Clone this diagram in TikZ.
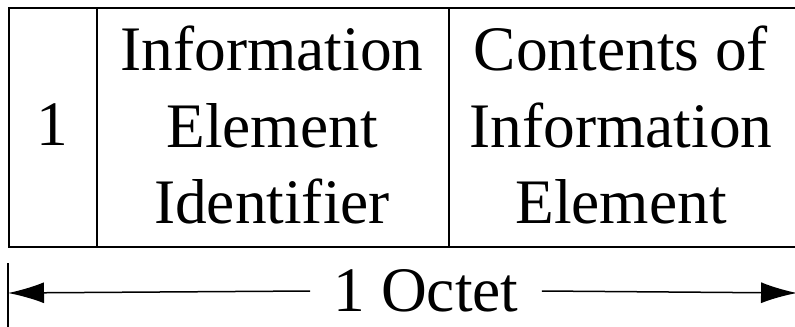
\documentclass[tikz,border=0pt]{standalone}
\usepackage{fontspec}
\setmainfont{Liberation Serif}
\usetikzlibrary{arrows.meta}
\begin{document}
\begin{tikzpicture}[x=0.5pt,y=-0.5pt,
  celltext/.style={align=center,font=\fontsize{31.7}{38.2}\selectfont},
  octetarrow/.style={line width=0.75pt,-{Latex[length=18pt,width=10.5pt]}}]

\useasboundingbox (0,0) rectangle (795,326);

% octet fields
\draw[line width=1pt] (9,8) rectangle (798,247);
\draw[line width=1pt] (97,8) -- (97,247);
\draw[line width=1pt] (449,8) -- (449,247);

\node[celltext] (flag) at (52,125) {1};
\node[celltext] (ieid) at (272,125) {Information\\Element\\Identifier};
\node[celltext] (iecont) at (621,125) {Contents of\\Information\\Element};

% width of one octet
\draw[line width=0.75pt] (8,263) -- (8,330);
\coordinate (octl) at (8,293);
\coordinate (octr) at (797,293);
\node[celltext,inner xsep=11.5pt] (octet) at (426,291) {1 Octet};
\draw[octetarrow] (octet.west) -- (octl);
\draw[octetarrow] (octet.east) -- (octr);

\end{tikzpicture}
\end{document}
